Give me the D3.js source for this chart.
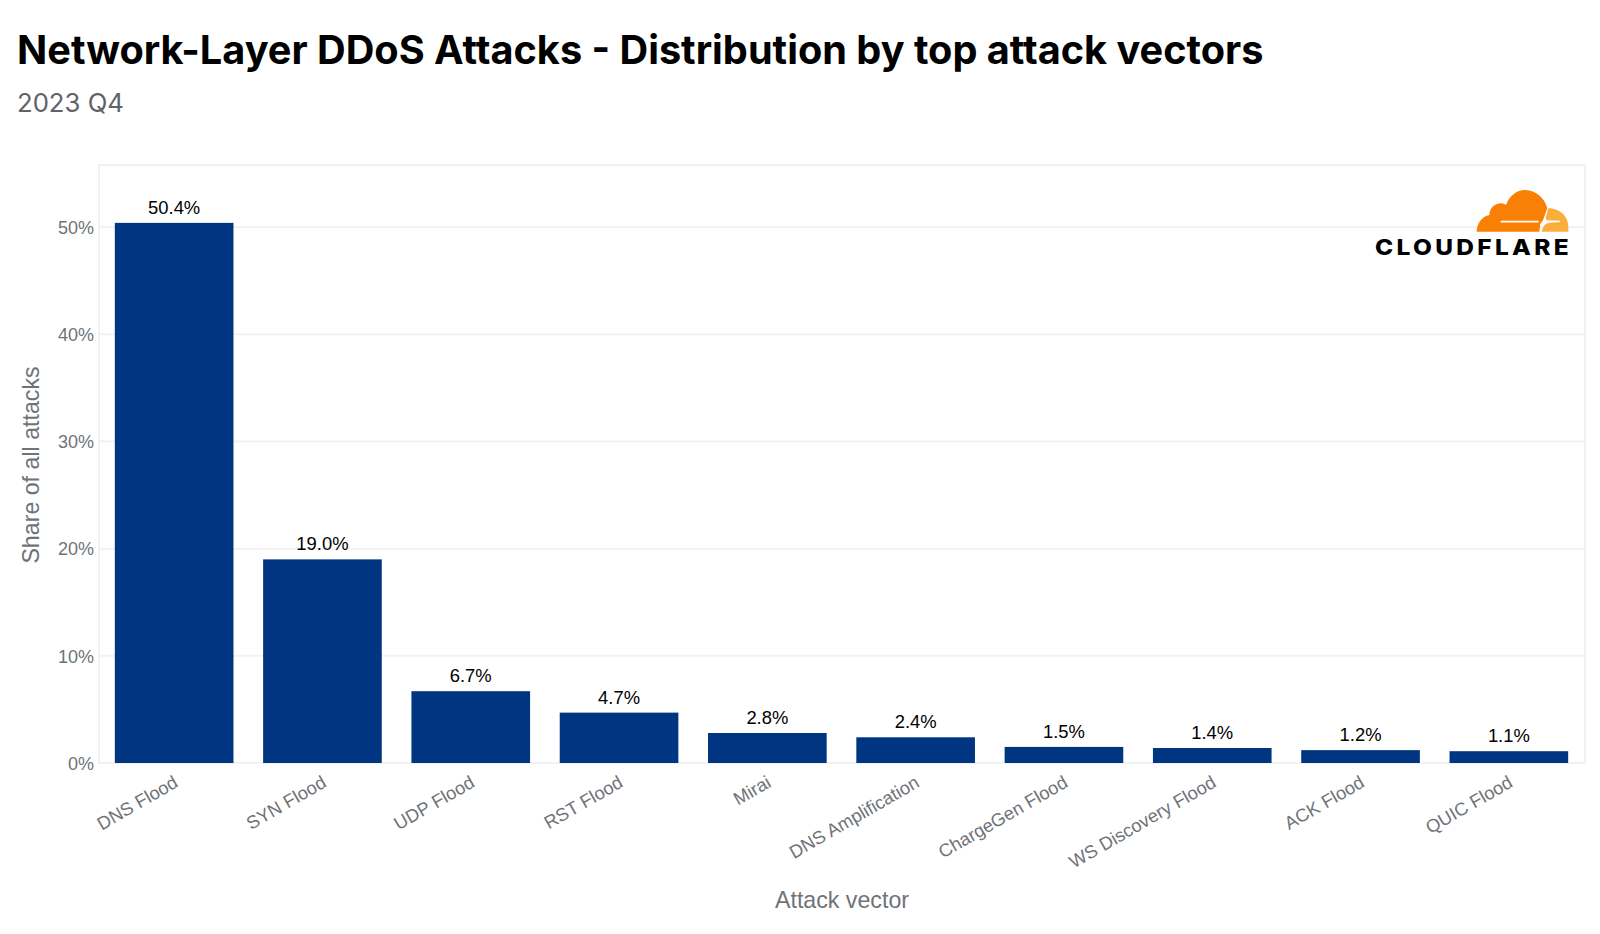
<!DOCTYPE html>
<html>
<head>
<meta charset="utf-8">
<script src="https://cdn.jsdelivr.net/npm/d3@7/dist/d3.min.js"></script>
<style>
body { margin: 0; background: #fff; }
svg { display: block; }
text { font-family: "Liberation Sans", sans-serif; }
</style>
</head>
<body>
<script>
var categories = ["DNS Flood", "SYN Flood", "UDP Flood", "RST Flood", "Mirai", "DNS Amplification", "ChargeGen Flood", "WS Discovery Flood", "ACK Flood", "QUIC Flood"];
var shares = [50.4, 19.0, 6.7, 4.7, 2.8, 2.4, 1.5, 1.4, 1.2, 1.1];
var yTicks = [0, 10, 20, 30, 40, 50];

var panel = {left: 99, right: 1585, top: 165, bottom: 763};
var gridColor = "#f2f2f3";
var barColor = "#003681";

var svg = d3.select("body").append("svg")
	.attr("width", 1600)
	.attr("height", 934);

var x = d3.scaleBand()
	.domain(categories)
	.range([panel.left + 1, panel.right - 2])
	.paddingInner(0.2)
	.paddingOuter(0.1);

var y = d3.scaleLinear()
	.domain([0, 55.8])
	.range([panel.bottom, panel.top]);

//titolo
svg.append("text")
	.attr("x", 17).attr("y", 64)
	.style("font-family", "Inter")
	.style("font-size", "39.7px")
	.style("font-weight", 700)
	.attr("fill", "#000")
	.text("Network-Layer DDoS Attacks - Distribution by top attack vectors");

svg.append("text")
	.attr("x", 17).attr("y", 112)
	.style("font-family", "Inter")
	.style("font-size", "25.7px")
	.attr("fill", "#5f6368")
	.text("2023 Q4");

//griglia e bordo
svg.append("g")
	.selectAll("line")
	.data(yTicks)
	.enter()
	.append("line")
	.attr("x1", panel.left).attr("x2", panel.right)
	.attr("y1", function (d) { return y(d); })
	.attr("y2", function (d) { return y(d); })
	.attr("stroke", gridColor)
	.attr("stroke-width", 2);

svg.append("rect")
	.attr("x", panel.left).attr("y", panel.top)
	.attr("width", panel.right - panel.left)
	.attr("height", panel.bottom - panel.top)
	.attr("fill", "none")
	.attr("stroke", gridColor)
	.attr("stroke-width", 2);

//asse y
var yAxis = svg.append("g")
	.attr("transform", "translate(" + panel.left + ",0.5)")
	.call(d3.axisLeft(y).tickValues(yTicks).tickSize(0).tickPadding(5).tickFormat(function (d) { return d + "%"; }));
yAxis.select(".domain").remove();
yAxis.selectAll("text")
	.style("font-size", "18px")
	.attr("fill", "#6f7378");

//asse x
var xAxis = svg.append("g")
	.attr("transform", "translate(0," + panel.bottom + ")")
	.call(d3.axisBottom(x).tickSize(0).tickPadding(0));
xAxis.select(".domain").remove();
xAxis.selectAll("text")
	.style("font-size", "18.3px")
	.attr("fill", "#6f7378")
	.attr("text-anchor", "end")
	.attr("dy", 0)
	.attr("transform", "translate(5,23) rotate(-30)");

//barre
svg.selectAll("rect.bar")
	.data(categories)
	.enter()
	.append("rect")
	.attr("class", "bar")
	.attr("x", function (d) { return x(d); })
	.attr("width", x.bandwidth())
	.attr("y", function (d, i) { return y(shares[i]); })
	.attr("height", function (d, i) { return y(0) - y(shares[i]); })
	.attr("fill", barColor);

//etichette dei valori
svg.selectAll("text.value")
	.data(categories)
	.enter()
	.append("text")
	.attr("class", "value")
	.attr("x", function (d) { return x(d) + x.bandwidth() / 2; })
	.attr("y", function (d, i) { return y(shares[i]) - 9; })
	.attr("text-anchor", "middle")
	.style("font-size", "18.4px")
	.attr("fill", "#000")
	.text(function (d, i) { return shares[i].toFixed(1) + "%"; });

//titoli degli assi
svg.append("text")
	.attr("x", 842).attr("y", 908)
	.attr("text-anchor", "middle")
	.style("font-size", "23.2px")
	.attr("fill", "#6f7378")
	.text("Attack vector");

svg.append("text")
	.attr("transform", "translate(39,465) rotate(-90)")
	.attr("text-anchor", "middle")
	.style("font-size", "23.2px")
	.attr("fill", "#6f7378")
	.text("Share of all attacks");

//logo
var logo = svg.append("g")
	.attr("transform", "translate(1460,180) scale(0.3333)");
logo.append("path")
	.attr("d", "M50 155 C50 130 68 108 88 105 C88 85 105 70 122 70 C128 70 134 72 138 75 C148 48 170 30 195 30 C228 30 255 55 262 85 L250 118 C246 128 240 130 240 138 L238 155 Z")
	.attr("fill", "#fa8005");
logo.append("path")
	.attr("d", "M122 125 L236 125")
	.attr("stroke", "#fff")
	.attr("stroke-width", 5)
	.attr("fill", "none");
logo.append("path")
	.attr("d", "M245 155 C250 135 258 128 272 128 L300 126 L300 122 L262 121 C258 120 257 115 258 110 L265 85 C295 85 325 105 325 140 L325 155 Z")
	.attr("fill", "#fcae3c");
svg.append("text")
	.attr("x", 1375).attr("y", 255)
	.attr("textLength", 197)
	.attr("lengthAdjust", "spacingAndGlyphs")
	.style("font-family", "Inter")
	.style("font-size", "22px")
	.style("font-weight", 800)
	.style("letter-spacing", "3px")
	.attr("fill", "#000")
	.text("CLOUDFLARE");
</script>
</body>
</html>
